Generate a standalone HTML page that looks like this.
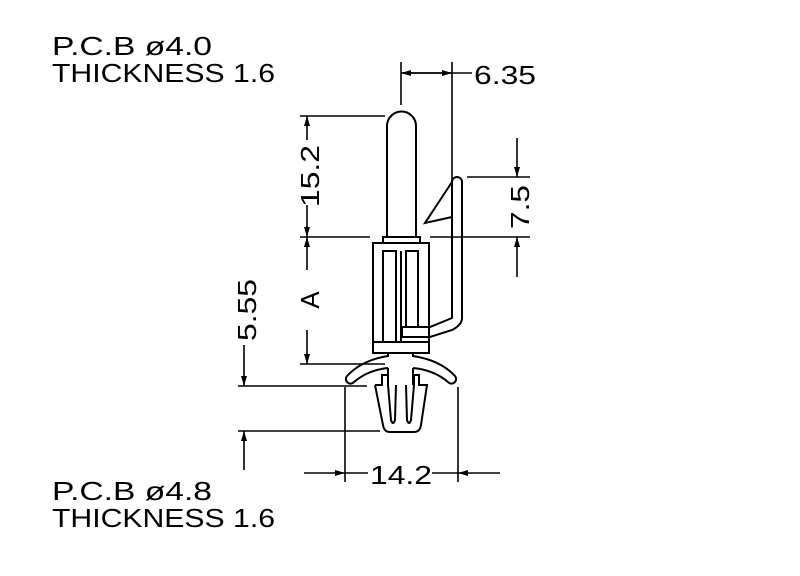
<!DOCTYPE html>
<html><head><style>body{margin:0;background:#fff}svg{display:block}text{font-family:"Liberation Sans",sans-serif;font-size:26px;fill:#000}</style></head>
<body>
<svg width="800" height="576" viewBox="0 0 800 576" xmlns="http://www.w3.org/2000/svg">
<defs>
<marker id="a" viewBox="0 0 10 6" refX="10" refY="3" markerWidth="16" markerHeight="6" markerUnits="userSpaceOnUse" orient="auto"><path d="M0,0L10,3L0,6z" fill="#000"/></marker>
</defs>
<text x="52" y="55" textLength="160" lengthAdjust="spacingAndGlyphs">P.C.B  ø4.0</text>
<text x="52" y="82" textLength="223" lengthAdjust="spacingAndGlyphs">THICKNESS  1.6</text>
<text x="52" y="500" textLength="160" lengthAdjust="spacingAndGlyphs">P.C.B  ø4.8</text>
<text x="52" y="527" textLength="223" lengthAdjust="spacingAndGlyphs">THICKNESS  1.6</text>
<g stroke="#000" stroke-width="2" fill="none">
<path d="M387,237 V126 A14.5,14.5 0 0 1 416,126 V237"/>
<path d="M383,243 V237 H420 V243"/>
<rect x="373" y="243" width="56" height="110"/>
<line x1="373" y1="342" x2="429" y2="342"/>
<path d="M383,342 V251 H396 V342"/>
<path d="M406,327 V251 H418 V327"/>
<line x1="401" y1="251" x2="401" y2="342"/>
<path d="M402,327 H430 L452,318 V182 A5,5 0 0 1 462,182 V318 Q462,325 452,330 L430,337 H402 Z"/>
<path d="M452,182 L425,223 L452,217"/>
<path d="M388,353 V356 Q362,360 347,376 A4,4 0 0 0 354,382 Q368,370 388,368 M413,353 V356 Q440,360 455,376 A4,4 0 0 1 448,382 Q434,370 413,368"/>
<path d="M388,368 V385 M413,368 V385"/>
<path d="M375,385 L383,425 Q384,432 390,432 H414 Q420,432 421,425 L427,385 H419 V375 H414 V385 M375,385 H382 V375 H388 V385"/>
<path d="M388,385 L391,420 Q393,426 395,420 L396,385 M406,385 L407,420 Q409,426 411,420 L414,385"/>
</g>
<g stroke="#000" stroke-width="1.6" fill="none">
<line x1="401" y1="62" x2="401" y2="105"/>
<line x1="452" y1="62" x2="452" y2="182"/>
<line x1="401" y1="73" x2="452" y2="73" marker-end="url(#a)"/>
<line x1="452" y1="73" x2="401" y2="73" marker-end="url(#a)"/>
<line x1="452" y1="73" x2="472" y2="73"/>
<line x1="300" y1="116" x2="385" y2="116"/>
<line x1="300" y1="237" x2="370" y2="237"/>
<line x1="430" y1="237" x2="530" y2="237"/>
<line x1="300" y1="364" x2="385" y2="364"/>
<line x1="307" y1="140" x2="307" y2="116" marker-end="url(#a)"/>
<line x1="307" y1="205" x2="307" y2="237" marker-end="url(#a)"/>
<line x1="307" y1="270" x2="307" y2="237" marker-end="url(#a)"/>
<line x1="307" y1="330" x2="307" y2="364" marker-end="url(#a)"/>
<line x1="467" y1="177" x2="530" y2="177"/>
<line x1="517" y1="138" x2="517" y2="177" marker-end="url(#a)"/>
<line x1="517" y1="277" x2="517" y2="237" marker-end="url(#a)"/>
<line x1="238" y1="386" x2="367" y2="386"/>
<line x1="238" y1="431" x2="380" y2="431"/>
<line x1="244" y1="345" x2="244" y2="386" marker-end="url(#a)"/>
<line x1="244" y1="470" x2="244" y2="431" marker-end="url(#a)"/>
<line x1="345" y1="387" x2="345" y2="482"/>
<line x1="458" y1="387" x2="458" y2="482"/>
<line x1="304" y1="473" x2="345" y2="473" marker-end="url(#a)"/>
<line x1="500" y1="473" x2="458" y2="473" marker-end="url(#a)"/>
<line x1="345" y1="473" x2="368" y2="473"/>
<line x1="432" y1="473" x2="458" y2="473"/>
</g>
<text x="474" y="84" textLength="62" lengthAdjust="spacingAndGlyphs">6.35</text>
<text x="370" y="484" textLength="62" lengthAdjust="spacingAndGlyphs">14.2</text>
<text transform="translate(319,176) rotate(-90)" text-anchor="middle" textLength="62" lengthAdjust="spacingAndGlyphs">15.2</text>
<text transform="translate(319,300) rotate(-90)" text-anchor="middle">A</text>
<text transform="translate(256,310) rotate(-90)" text-anchor="middle" textLength="62" lengthAdjust="spacingAndGlyphs">5.55</text>
<text transform="translate(529,207) rotate(-90)" text-anchor="middle" textLength="44" lengthAdjust="spacingAndGlyphs">7.5</text>
</svg>
</body></html>
